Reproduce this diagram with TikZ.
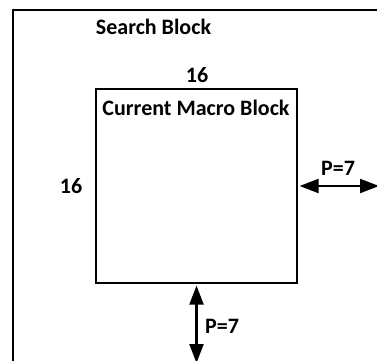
\documentclass[tikz,border=0pt]{standalone}
\usepackage{fontspec}
\setmainfont{Carlito}
\usetikzlibrary{arrows.meta}
\tikzset{
  lbl/.style={font=\bfseries\fontsize{22}{26}\selectfont, inner sep=0pt, anchor=base},
  box/.style={draw=black, line width=2.6pt, fill=white},
  dim/.style={line width=2.2pt, {Triangle[length=19pt,width=14pt]}-{Triangle[length=19pt,width=14pt]}}
}
\begin{document}
\begin{tikzpicture}[x=1pt,y=1pt]
\useasboundingbox (0,0) rectangle (377,360);
\clip (0,0) rectangle (377,360);
\fill[white] (0,0) rectangle (377,360);
% search block (clipped at right and bottom)
\draw[box] (13,350) rectangle (400,-30);
\node[box, minimum width=201pt, minimum height=194pt, inner sep=0pt] (mb) at (196.5,174) {};
\node[lbl] (search) at (153.5,326) {Search Block};
\node[lbl] (top16) at (197,278) {16};
\node[lbl] (cmb) at (196,245) {Current Macro Block};
\node[lbl] (left16) at (71,167) {16};
\node[lbl] (pr) at (338,185) {P=7};
\node[lbl] (pb) at (222,27) {P=7};
\coordinate (rend) at (379,174);
\coordinate (bend) at (196.5,-3);
\draw[dim, shorten <=1.3pt] (mb.east) -- (rend);
\draw[dim, shorten <=1.3pt] (mb.south) -- (bend);
\end{tikzpicture}
\end{document}
